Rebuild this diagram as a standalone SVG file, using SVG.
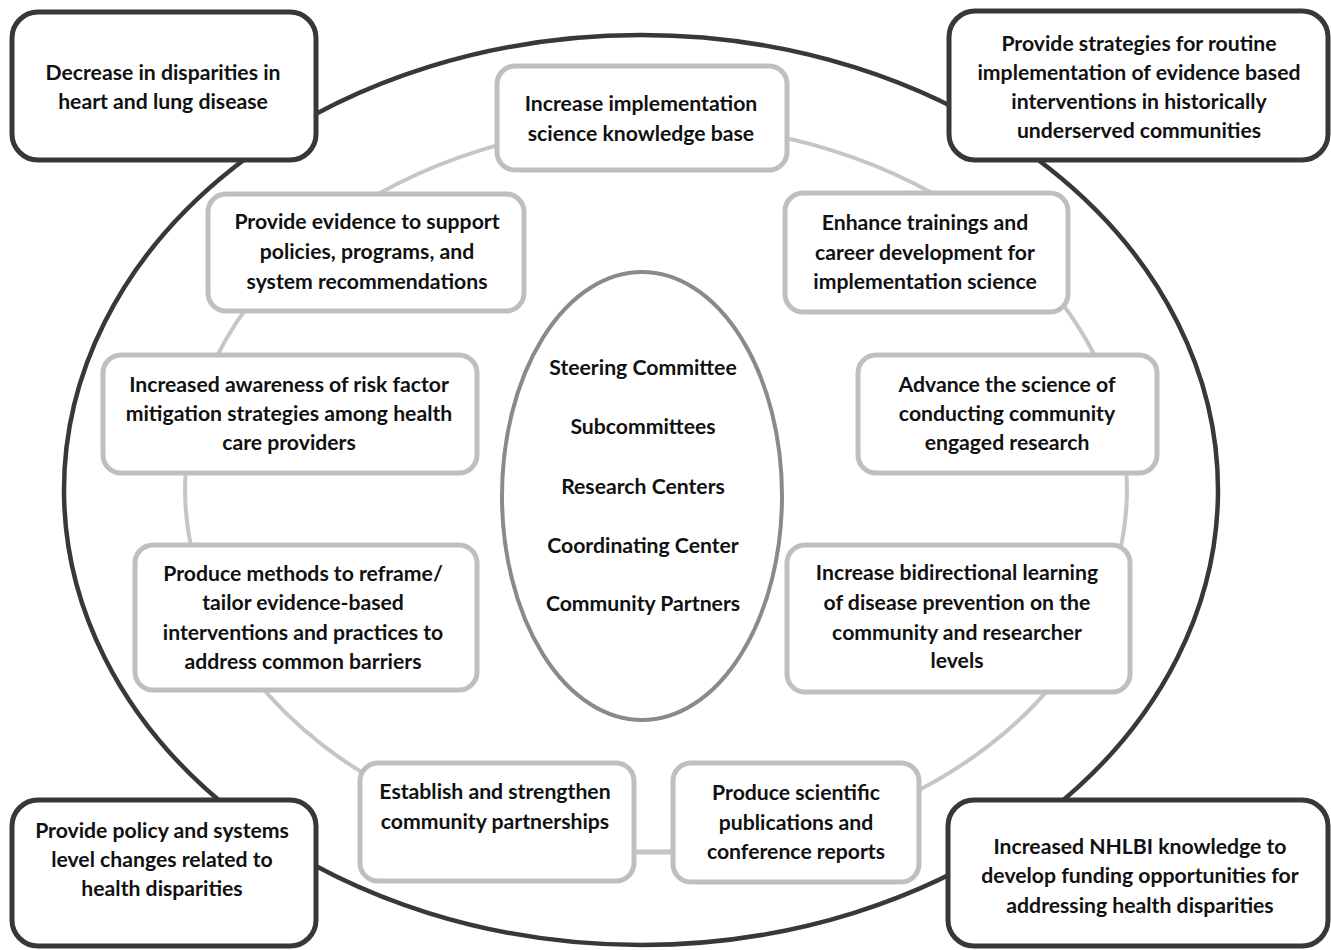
<svg xmlns="http://www.w3.org/2000/svg" width="1331" height="950" viewBox="0 0 1331 950">
<style>
.t{font-family:Lato,"Liberation Sans",sans-serif;font-weight:bold;font-size:21.2px;fill:#111;text-anchor:middle}
.dk{fill:#fff;stroke:#383838;stroke-width:5}
.lt{fill:#fff;stroke:#bfbfbf;stroke-width:5}
.ring{fill:none;stroke:#c6c6c6;stroke-width:4}
.outer{fill:none;stroke:#383838;stroke-width:4.5}
</style>
<rect width="1331" height="950" fill="#fff"/>
<g id="connectors">
<ellipse class="outer" cx="641" cy="490" rx="577" ry="455"/>
<ellipse class="ring" cx="656" cy="488" rx="471" ry="364"/>
<line class="ring" x1="630" y1="852" x2="676" y2="852" style="stroke-width:5"/>
</g>
<g id="n-tl"><rect class="dk" x="12" y="12" width="304" height="148" rx="26"/>
<text class="t" x="163" y="80">Decrease in disparities in</text><text class="t" x="163" y="109">heart and lung disease</text></g>
<g id="n-tr"><rect class="dk" x="949" y="11" width="379" height="149" rx="26"/>
<text class="t" x="1139" y="51">Provide strategies for routine</text><text class="t" x="1139" y="80">implementation of evidence based</text><text class="t" x="1139" y="109">interventions in historically</text><text class="t" x="1139" y="138">underserved communities</text></g>
<g id="n-bl"><rect class="dk" x="12" y="800" width="304" height="146" rx="26"/>
<text class="t" x="162" y="838">Provide policy and systems</text><text class="t" x="162" y="867">level changes related to</text><text class="t" x="162" y="896">health disparities</text></g>
<g id="n-br"><rect class="dk" x="948" y="800" width="380" height="146" rx="26"/>
<text class="t" x="1140" y="854">Increased NHLBI knowledge to</text><text class="t" x="1140" y="883">develop funding opportunities for</text><text class="t" x="1140" y="913">addressing health disparities</text></g>
<g id="n-a"><rect class="lt" x="497" y="66" width="290" height="104" rx="18"/>
<text class="t" x="641" y="111">Increase implementation</text><text class="t" x="641" y="141">science knowledge base</text></g>
<g id="n-b"><rect class="lt" x="208" y="194" width="316" height="117" rx="18"/>
<text class="t" x="367" y="229">Provide evidence to support</text><text class="t" x="367" y="259">policies, programs, and</text><text class="t" x="367" y="289">system recommendations</text></g>
<g id="n-c"><rect class="lt" x="785" y="193" width="283" height="119" rx="18"/>
<text class="t" x="925" y="230">Enhance trainings and</text><text class="t" x="925" y="260">career development for</text><text class="t" x="925" y="289">implementation science</text></g>
<g id="n-d"><rect class="lt" x="103" y="355" width="374" height="118" rx="18"/>
<text class="t" x="289" y="392">Increased awareness of risk factor</text><text class="t" x="289" y="421">mitigation strategies among health</text><text class="t" x="289" y="450">care providers</text></g>
<g id="n-e"><rect class="lt" x="858" y="355" width="299" height="118" rx="18"/>
<text class="t" x="1007" y="392">Advance the science of</text><text class="t" x="1007" y="421">conducting community</text><text class="t" x="1007" y="450">engaged research</text></g>
<g id="n-f"><rect class="lt" x="135" y="545" width="342" height="145" rx="18"/>
<text class="t" x="303" y="581">Produce methods to reframe/</text><text class="t" x="303" y="610">tailor evidence-based</text><text class="t" x="303" y="640">interventions and practices to</text><text class="t" x="303" y="669">address common barriers</text></g>
<g id="n-g"><rect class="lt" x="787" y="545" width="343" height="147" rx="18"/>
<text class="t" x="957" y="580">Increase bidirectional learning</text><text class="t" x="957" y="610">of disease prevention on the</text><text class="t" x="957" y="640">community and researcher</text><text class="t" x="957" y="668">levels</text></g>
<g id="n-h"><rect class="lt" x="360" y="763" width="274" height="118" rx="18"/>
<text class="t" x="495" y="799">Establish and strengthen</text><text class="t" x="495" y="829">community partnerships</text></g>
<g id="n-i"><rect class="lt" x="673" y="763" width="246" height="119" rx="18"/>
<text class="t" x="796" y="800">Produce scientific</text><text class="t" x="796" y="830">publications and</text><text class="t" x="796" y="859">conference reports</text></g>
<g id="n-center"><ellipse cx="642" cy="496" rx="140" ry="224" fill="#fff" stroke="#8a8a8a" stroke-width="4"/>
<text class="t" x="643" y="375">Steering Committee</text><text class="t" x="643" y="434">Subcommittees</text><text class="t" x="643" y="494">Research Centers</text><text class="t" x="643" y="553">Coordinating Center</text><text class="t" x="643" y="611">Community Partners</text></g>
</svg>
